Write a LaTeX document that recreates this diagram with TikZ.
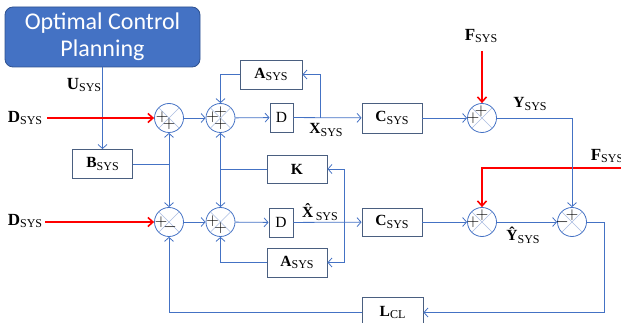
\documentclass[tikz,border=0pt]{standalone}
\usepackage{fontspec}
\setmainfont{Liberation Serif}
\newfontfamily\carlito{Carlito}
\usetikzlibrary{arrows.meta}
\definecolor{ln}{HTML}{4472C4}
\definecolor{bx}{HTML}{4A5F80}
\definecolor{cr}{HTML}{A9BCE0}
\definecolor{planfill}{HTML}{4472C4}
\definecolor{planedge}{HTML}{2F528F}
\newcommand\lbl[2]{\textbf{#1}{\fontsize{12}{12}\selectfont\raisebox{-2.8pt}{#2}}}
\newcommand\sumx[1]{\draw[cr,line width=0.6pt] (#1.45) -- (#1.225) (#1.135) -- (#1.315);}
\tikzset{
  blk/.style={draw=bx, line width=0.9pt, minimum height=29pt, minimum width=60pt, inner sep=0pt, font=\fontsize{15.5}{15.5}\selectfont},
  sumc/.style={circle, draw=ln, line width=0.8pt, minimum size=29pt, inner sep=0pt},
  con/.style={draw=ln, line width=0.8pt, -{Straight Barb[length=4pt,width=9pt]}},
  wire/.style={draw=ln, line width=0.8pt},
  dist/.style={draw=red, line width=1.6pt, -{Straight Barb[length=5pt,width=9pt]}},
  sg/.style={inner sep=0pt, font=\fontsize{18}{18}\selectfont},
  olbl/.style={inner sep=0pt, font=\fontsize{17}{17}\selectfont},
  ilbl/.style={inner sep=0pt, font=\fontsize{15.5}{15.5}\selectfont}
}
\begin{document}
\begin{tikzpicture}[x=1pt,y=-1pt]
\useasboundingbox (0,0) rectangle (621,323);
% planning box
\node[draw=planedge, fill=planfill, line width=0.8pt, rounded corners=8pt, minimum width=195pt, minimum height=60pt, inner sep=0pt, text=white, align=center, font=\carlito\fontsize{24}{27}\selectfont] (plan) at (102.5,37) {Optimal Control\\Planning};
% blocks
\node[blk] (B) at (102.5,164) {\lbl{B}{SYS}};
\node[blk, minimum width=62pt] (A1) at (271,74.5) {\lbl{A}{SYS}};
\node[blk, minimum width=23pt] (D1) at (281.5,117.5) {D};
\node[blk, minimum height=30pt] (C1) at (392,118) {\lbl{C}{SYS}};
\node[blk, minimum height=28pt] (K) at (297,169) {\textbf{K}};
\node[blk, minimum width=24pt] (D2) at (281,222.5) {D};
\node[blk] (A2) at (297,262.5) {\lbl{A}{SYS}};
\node[blk, minimum height=28pt] (C2) at (392,222) {\lbl{C}{SYS}};
\node[blk, minimum width=61pt, minimum height=31pt] (L) at (392.5,312.5) {\lbl{L}{CL}};
% summing junctions
\node[sumc] (s1) at (169,118) {};
\node[sumc] (s2) at (220.5,118) {};
\node[sumc] (s3) at (482,118) {};
\node[sumc] (s4) at (482,222) {};
\node[sumc] (s5) at (572,222) {};
\node[sumc] (s6) at (169,222) {};
\node[sumc] (s7) at (220.5,222) {};
\sumx{s1}\sumx{s2}\sumx{s3}\sumx{s4}\sumx{s5}\sumx{s6}\sumx{s7}
% signs
\node[sg] (p1a) at ([shift={(-7,-1)}]s1) {$+$};
\node[sg] (p1b) at ([shift={(0,6)}]s1) {$+$};
\node[sg] (p2a) at ([shift={(-8,-1)}]s2) {$+$};
\node[sg] (p2b) at ([shift={(0,-6)}]s2) {$+$};
\node[sg] (p2c) at ([shift={(0,6)}]s2) {$+$};
\node[sg] (p3a) at ([shift={(-9,0)}]s3) {$+$};
\node[sg] (p3b) at ([shift={(-1,-7)}]s3) {$+$};
\node[sg] (p4a) at ([shift={(-9,0)}]s4) {$+$};
\node[sg] (p4b) at ([shift={(0,-7)}]s4) {$+$};
\node[sg] (p5a) at ([shift={(-10,0)}]s5) {$-$};
\node[sg] (p5b) at ([shift={(0,-7)}]s5) {$+$};
\node[sg] (p6a) at ([shift={(-8,0)}]s6) {$+$};
\node[sg] (p6b) at ([shift={(1,5)}]s6) {$-$};
\node[sg] (p7a) at ([shift={(-8,-1)}]s7) {$+$};
\node[sg] (p7b) at ([shift={(0,6)}]s7) {$+$};
% labels
\node[olbl] (u) at (84,85) {\lbl{U}{SYS}};
\node[olbl] (dl1) at (25,118) {\lbl{D}{SYS}};
\node[olbl] (dl2) at (25,221) {\lbl{D}{SYS}};
\node[olbl] (ft) at (481,36) {\lbl{F}{SYS}};
\node[olbl] (fr) at (607,156) {\lbl{F}{SYS}};
\node[ilbl] (x) at (326,130) {\lbl{X}{SYS}};
\node[ilbl] (xh) at (320,212) {\lbl{\^{X}}{SYS}};
\node[ilbl] (y) at (530,104) {\lbl{Y}{SYS}};
\node[ilbl] (yh) at (523,235) {\lbl{\^{Y}}{SYS}};
% coordinates
\coordinate (jb) at (s1 |- B.east);
\coordinate (jk) at (s7 |- K.west);
\coordinate (j1) at (320,118);
\coordinate (j2) at (344,222);
\coordinate (r1) at (604,222);
\coordinate (frs) at (622,168);
\coordinate (ts1) at (47,118);
\coordinate (ts2) at (45,222);
\coordinate (tft) at (482,51);
% connectors
\draw[con] (plan.south) -- (B.north);
\draw[dist] (ts1) -- (s1.west);
\draw[dist] (ts2) -- (s6.west);
\draw[dist] (tft) -- (s3.north);
\draw[dist] (frs) -| (s4.north);
\draw[con] (s1) -- (s2);
\draw[con] (s2) -- (D1);
\draw[con] (D1) -- (C1);
\draw[con] (j1) |- (A1.east);
\draw[con] (A1.west) -| (s2.north);
\draw[con] (C1) -- (s3);
\draw[con] (s3.east) -| (s5.north);
\draw[con] (C2) -- (s4);
\draw[con] (s4) -- (s5);
\draw[con] (s5.east) -- (r1) |- (L.east);
\draw[con] (L.west) -| (s6.south);
\draw[wire] (B.east) -- (jb);
\draw[con] (jb) -- (s1.south);
\draw[con] (jb) -- (s6.north);
\draw[con] (s6) -- (s7);
\draw[wire] (K.west) -- (jk);
\draw[con] (jk) -- (s2.south);
\draw[con] (jk) -- (s7.north);
\draw[con] (s7) -- (D2);
\draw[con] (D2) -- (C2);
\draw[con] (j2) |- (K.east);
\draw[con] (j2) |- (A2.east);
\draw[con] (A2.west) -| (s7.south);
\end{tikzpicture}
\end{document}
